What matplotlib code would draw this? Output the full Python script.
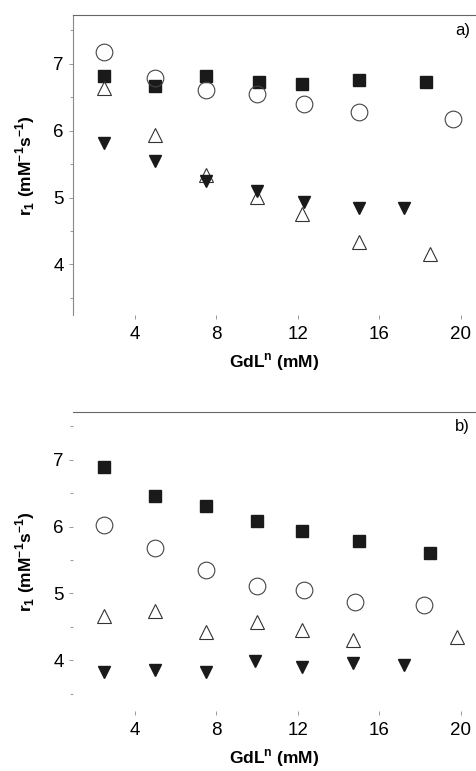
import matplotlib
matplotlib.use("Agg")
import matplotlib.pyplot as plt
from matplotlib.ticker import MultipleLocator

plt.rcParams["font.family"] = ["Liberation Sans", "DejaVu Sans"]

# panel a)
a_sq_x = [2.5, 5.0, 7.5, 10.1, 12.2, 15.0, 18.3]
a_sq_y = [6.81, 6.66, 6.82, 6.73, 6.70, 6.75, 6.73]
a_ci_x = [2.5, 5.0, 7.5, 10.0, 12.3, 15.0, 19.6]
a_ci_y = [7.17, 6.78, 6.61, 6.54, 6.39, 6.27, 6.18]
a_tu_x = [2.5, 5.0, 7.5, 10.0, 12.2, 15.0, 18.5]
a_tu_y = [6.63, 5.94, 5.34, 5.01, 4.75, 4.34, 4.15]
a_td_x = [2.5, 5.0, 7.5, 10.0, 12.3, 15.0, 17.2]
a_td_y = [5.82, 5.55, 5.25, 5.09, 4.93, 4.85, 4.84]

# panel b)
b_sq_x = [2.5, 5.0, 7.5, 10.0, 12.2, 15.0, 18.5]
b_sq_y = [6.89, 6.46, 6.31, 6.09, 5.94, 5.79, 5.60]
b_ci_x = [2.5, 5.0, 7.5, 10.0, 12.3, 14.8, 18.2]
b_ci_y = [6.03, 5.68, 5.35, 5.11, 5.05, 4.87, 4.83]
b_tu_x = [2.5, 5.0, 7.5, 10.0, 12.2, 14.7, 19.8]
b_tu_y = [4.66, 4.73, 4.42, 4.57, 4.45, 4.30, 4.35]
b_td_x = [2.5, 5.0, 7.5, 9.9, 12.2, 14.7, 17.2]
b_td_y = [3.82, 3.85, 3.82, 3.98, 3.90, 3.96, 3.93]

panels = [
    ("a)", a_sq_x, a_sq_y, a_ci_x, a_ci_y, a_tu_x, a_tu_y, a_td_x, a_td_y, True),
    ("b)", b_sq_x, b_sq_y, b_ci_x, b_ci_y, b_tu_x, b_tu_y, b_td_x, b_td_y, False),
]

fig = plt.figure(figsize=(4.76, 7.71), dpi=100)
rects = [[0.153, 0.591, 0.847, 0.389], [0.153, 0.078, 0.847, 0.388]]

for rect, (tag, sx, sy, cx, cy, ux, uy, dx, dy, left_spine) in zip(rects, panels):
    ax = fig.add_axes(rect)
    ax.plot(sx, sy, ls="none", marker="s", ms=9, color="#1a1a1a")
    ax.plot(cx, cy, ls="none", marker="o", ms=12, mfc="none", mec="#444444", mew=0.8)
    ax.plot(ux, uy, ls="none", marker="^", ms=10, mfc="none", mec="#333333", mew=0.8)
    ax.plot(dx, dy, ls="none", marker="v", ms=9, color="#1a1a1a")

    ax.set_xlim(0.96, 20.74)
    ax.set_ylim(3.24, 7.72)
    ax.yaxis.set_major_locator(MultipleLocator(1))
    ax.yaxis.set_minor_locator(MultipleLocator(0.5))
    ax.set_xticks([4, 8, 12, 16, 20])

    for side in ("right", "bottom"):
        ax.spines[side].set_visible(False)
    ax.spines["top"].set_color("#666666")
    ax.spines["left"].set_color("#888888")
    ax.spines["left"].set_visible(left_spine)

    ax.tick_params(axis="both", which="both", direction="out", color="#999999",
                   length=3, width=0.7, labelsize=13.5)
    ax.tick_params(axis="y", which="minor", length=2)
    ax.tick_params(axis="x", pad=5)

    ax.set_xlabel("GdL$^{\\mathregular{n}}$ (mM)", fontsize=12.5,
                  fontweight="bold", labelpad=6)
    ax.set_ylabel("r$_{\\mathregular{1}}$ (mM$^{\\mathregular{-1}}$s$^{\\mathregular{-1}}$)",
                  fontsize=12.5, fontweight="bold", labelpad=12)
    ax.text(0.985, 0.975, tag, transform=ax.transAxes, ha="right", va="top", fontsize=12)

fig.savefig("out.png", dpi=100)
